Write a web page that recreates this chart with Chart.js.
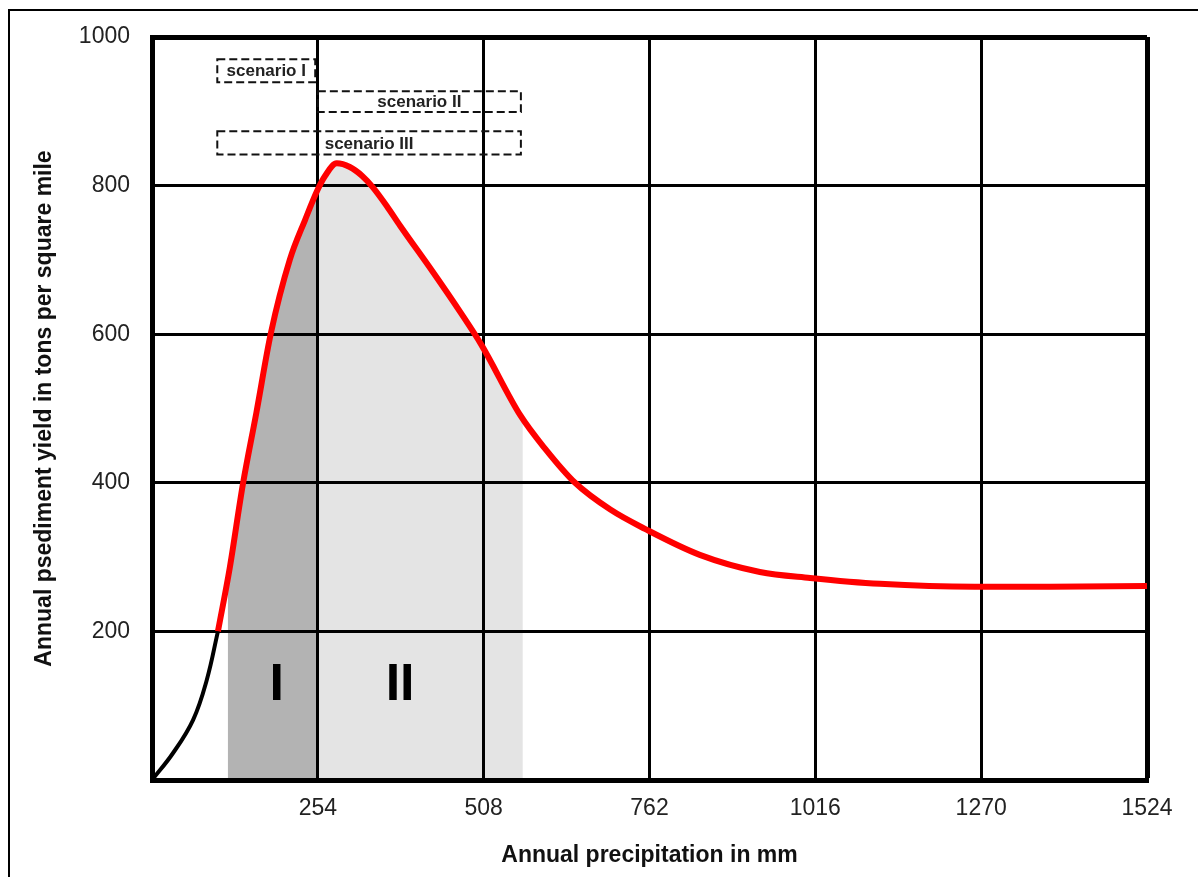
<!DOCTYPE html>
<html>
<head>
<meta charset="utf-8">
<title>Annual sediment yield</title>
<script src="https://cdn.jsdelivr.net/npm/chart.js@4"></script>
<style>
  html, body { margin: 0; padding: 0; background: #fff; }
  #wrap { position: relative; width: 1198px; height: 877px; overflow: hidden; }
  #frame { position: absolute; left: 8px; top: 9px; right: -10px; bottom: -10px; border: 2px solid #000; }
  #chart { position: absolute; left: 0; top: 0; }
</style>
</head>
<body>
<div id="wrap">
  <div id="frame"></div>
  <canvas id="chart" width="1198" height="877"></canvas>
</div>
<script>
// Dane (mm opadu -> tony na mile kw.)
const lowX = [0, 32, 63, 84, 101];
const lowY = [0, 36, 81, 135, 200];

const curveX = [101, 119, 139, 160, 182, 211, 235, 254, 265, 283, 303, 322, 338, 360, 380, 430, 472, 505, 564, 602, 648, 702, 755, 839, 931, 1008, 1115, 1260, 1375, 1524];
const curveY = [200, 285, 397, 495, 601, 700, 755, 795, 813, 830, 825, 813, 798, 772, 746, 684, 630, 585, 491, 446, 400, 364, 338, 303, 280, 272, 264, 260, 260, 261];

// Obszary zacieniowane I i II
const zoneIX = [116, 119, 139, 160, 182, 211, 235, 254];
const zoneIY = [268, 285, 397, 495, 601, 700, 755, 795];
const zoneIIX = [254, 265, 283, 303, 322, 338, 360, 380, 430, 472, 505, 564, 568];
const zoneIIY = [795, 813, 830, 825, 813, 798, 772, 746, 684, 630, 585, 491, 486];

const zoneLabels = ['I', 'II'];
const zoneLabelX = [191, 380];

// Scenariusze (zakresy opadu)
const scenarioNames = ['scenario I', 'scenario II', 'scenario III'];
const scenarioFrom = [100, 254, 100];
const scenarioTo = [250, 565, 565];

const xTicks = [0, 254, 508, 762, 1016, 1270, 1524];
const yTicks = [0, 200, 400, 600, 800, 1000];

function toPoints(xs, ys) {
  return xs.map((x, i) => ({ x: x, y: ys[i] }));
}

// Ramki scenariuszy i numery stref
const overlayPlugin = {
  id: 'overlay',
  afterDatasetsDraw(chart) {
    const ctx = chart.ctx;
    const xs = chart.scales.x;
    const ys = chart.scales.y;
    const rows = [[970, 939], [927, 899], [873, 842]];

    ctx.save();
    ctx.strokeStyle = '#111';
    ctx.lineWidth = 2;
    ctx.setLineDash([8, 4]);
    ctx.font = 'bold 17px "Liberation Sans", Arial, sans-serif';
    ctx.textAlign = 'center';
    ctx.textBaseline = 'middle';
    scenarioNames.forEach((name, i) => {
      const x0 = xs.getPixelForValue(scenarioFrom[i]);
      const x1 = xs.getPixelForValue(scenarioTo[i]);
      const y0 = ys.getPixelForValue(rows[i][0]);
      const y1 = ys.getPixelForValue(rows[i][1]);
      ctx.strokeRect(x0, y0, x1 - x0, y1 - y0);
      ctx.fillStyle = '#222';
      ctx.fillText(name, (x0 + x1) / 2, (y0 + y1) / 2 + 1);
    });

    ctx.setLineDash([]);
    ctx.fillStyle = '#000';
    ctx.font = 'bold 52px "Liberation Sans", Arial, sans-serif';
    zoneLabels.forEach((label, i) => {
      ctx.fillText(label, xs.getPixelForValue(zoneLabelX[i]), ys.getPixelForValue(127));
    });
    ctx.restore();
  }
};

const tickFont = { family: '"Liberation Sans", Arial, sans-serif', size: 23 };
const titleFont = { family: '"Liberation Sans", Arial, sans-serif', size: 23, weight: 'bold' };

new Chart(document.getElementById('chart').getContext('2d'), {
  type: 'line',
  data: {
    datasets: [
      {
        data: toPoints(zoneIX, zoneIY),
        borderWidth: 0,
        pointRadius: 0,
        backgroundColor: '#b3b3b3',
        fill: 'origin',
        cubicInterpolationMode: 'monotone'
      },
      {
        data: toPoints(zoneIIX, zoneIIY),
        borderWidth: 0,
        pointRadius: 0,
        backgroundColor: '#e4e4e4',
        fill: 'origin',
        cubicInterpolationMode: 'monotone'
      },
      {
        data: toPoints(lowX, lowY),
        borderColor: '#000',
        borderWidth: 4,
        pointRadius: 0,
        fill: false,
        tension: 0.4
      },
      {
        data: toPoints(curveX, curveY),
        borderColor: '#ff0000',
        borderWidth: 6,
        pointRadius: 0,
        fill: false,
        cubicInterpolationMode: 'monotone'
      }
    ]
  },
  options: {
    responsive: false,
    animation: false,
    layout: { padding: { left: 0, top: 37, right: 51, bottom: 0 } },
    scales: {
      x: {
        type: 'linear',
        min: 0,
        max: 1524,
        afterBuildTicks: s => { s.ticks = xTicks.map(v => ({ value: v })); },
        afterFit: s => { s.height = 97; },
        grid: {
          color: '#000',
          lineWidth: c => (c.tick && c.tick.value === 1524 ? 5 : 3),
          drawTicks: false
        },
        border: { color: '#000', width: 5 },
        ticks: {
          color: '#222',
          font: tickFont,
          padding: 15,
          maxRotation: 0,
          callback: v => (v === 0 ? '' : v)
        },
        title: {
          display: true,
          text: 'Annual precipitation in mm',
          color: '#111',
          font: titleFont,
          padding: { top: 0, bottom: 8 }
        }
      },
      y: {
        min: 0,
        max: 1000,
        afterBuildTicks: s => { s.ticks = yTicks.map(v => ({ value: v })); },
        afterFit: s => { s.width = 152; },
        grid: {
          color: '#000',
          lineWidth: c => (c.tick && c.tick.value === 1000 ? 5 : 3),
          drawTicks: false
        },
        border: { color: '#000', width: 5 },
        ticks: {
          color: '#222',
          font: tickFont,
          padding: 22,
          callback: v => (v === 0 ? '' : v)
        },
        title: {
          display: true,
          text: 'Annual psediment yield in tons per square mile',
          color: '#111',
          font: titleFont,
          padding: { top: 31, bottom: 0 }
        }
      }
    },
    plugins: {
      legend: { display: false },
      tooltip: { enabled: false },
      filler: { drawTime: 'beforeDraw' }
    }
  },
  plugins: [overlayPlugin]
});
</script>
</body>
</html>
